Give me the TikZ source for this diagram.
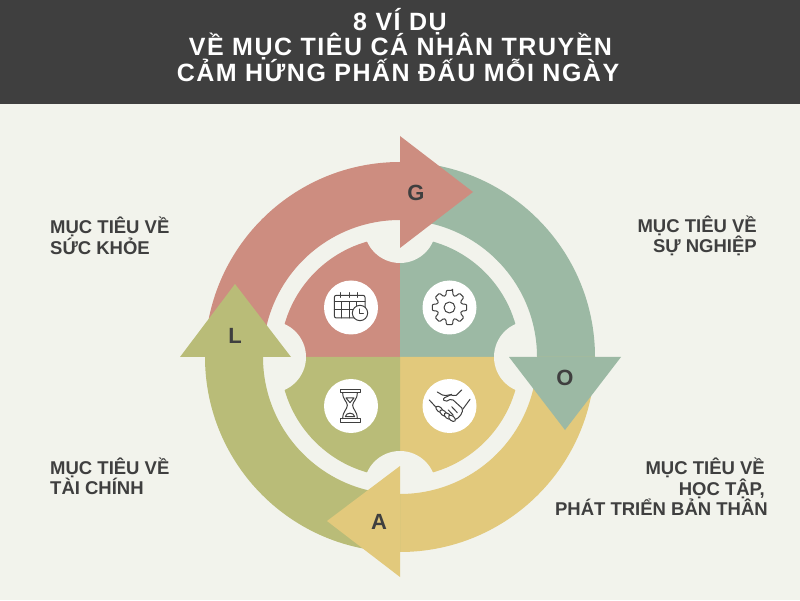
\documentclass[tikz,border=0pt]{standalone}
\usepackage{fontspec}
\setmainfont{Liberation Sans}
\newfontfamily\titlefont[LetterSpace=6]{Liberation Sans}
\definecolor{bgc}{HTML}{F2F3EC}
\definecolor{inkc}{HTML}{3F3F3F}
\definecolor{redc}{HTML}{CD8D80}
\definecolor{greenc}{HTML}{9CB9A4}
\definecolor{yellowc}{HTML}{E2C97C}
\definecolor{olivec}{HTML}{B9BC78}
\tikzset{
	title/.style={text=white,font=\titlefont\bfseries\fontsize{25}{25}\selectfont,inner sep=0,anchor=base},
	goal/.style={text=inkc,font=\bfseries\fontsize{18.5}{20.5}\selectfont,inner sep=0,align=left,anchor=west},
	goalr/.style={goal,align=right,anchor=east},
	letter/.style={text=inkc,font=\bfseries\fontsize{22}{22}\selectfont,inner sep=0},
	badge/.style={circle,fill=white,minimum size=54pt,inner sep=0},
	icon/.style={draw=inkc,line width=1pt,line join=round,line cap=round},
	zoomed/.style={shift={#1},x=0.3333pt,y=-0.3333pt}
}
\begin{document}
\begin{tikzpicture}[x=1pt,y=1pt]
	\useasboundingbox (0,0) rectangle (800,600);
	\fill[bgc] (0,0) rectangle (800,600);
	\fill[inkc] (0,496) rectangle (800,600);
	\path (400,569) node(t1)[title]{8 VÍ DỤ}
	(400.5,544) node(t2)[title]{VỀ MỤC TIÊU CÁ NHÂN TRUYỀN}
	(398,518.5) node(t3)[title]{CẢM HỨNG PHẤN ĐẤU MỖI NGÀY};
	\begin{scope}[shift={(400,243)}]
		% inner quarters
		\fill[redc] (0,0) -- (180:120) arc (180:90:120) -- cycle;
		\fill[greenc] (0,0) -- (90:120) arc (90:0:120) -- cycle;
		\fill[yellowc] (0,0) -- (0:120) arc (0:-90:120) -- cycle;
		\fill[olivec] (0,0) -- (-90:120) arc (-90:-180:120) -- cycle;
		\foreach \a in {0,90,180,270}
			\fill[bgc] (\a:130) circle (36);
		% ring
		\fill[redc] (180:195) arc (180:90:195) -- (90:137) arc (90:180:137) -- cycle;
		\fill[greenc] (90:195) arc (90:0:195) -- (0:137) arc (0:90:137) -- cycle;
		\fill[yellowc] (0:195) arc (0:-90:195) -- (-90:137) arc (-90:0:137) -- cycle;
		\fill[olivec] (-90:195) arc (-90:-180:195) -- (180:137) arc (180:270:137) -- cycle;
		% heads
		\fill[redc] (0,221) -- (73,165) -- (0,109) -- cycle;
		\fill[greenc] (109,0) -- (221,0) -- (165,-73) -- cycle;
		\fill[yellowc] (0,-109) -- (0,-220) -- (-73,-164) -- cycle;
		\fill[olivec] (-220,0) -- (-109,0) -- (-165,73) -- cycle;
	\end{scope}
	\path (416,407) node(g)[letter]{G}
	(565,222) node(o)[letter]{O}
	(379,78) node(a)[letter]{A}
	(235,264) node(l)[letter]{L};
	\path (351,292.5) node(cal)[badge]{}
	(449.5,292.5) node(gear)[badge]{}
	(351,194) node(glass)[badge]{}
	(449.5,194) node(hand)[badge]{};
	% calendar
	\begin{scope}[zoomed={(320,322)}]
		\draw[icon,rounded corners=2pt] (43,52) rectangle (135,120);
		\draw[icon] (43,72) -- (135,72) (43,95) -- (110,95)
		(65,72) -- (65,120) (88,72) -- (88,120) (110,72) -- (110,95)
		(62,44) -- (62,58) (88,44) -- (88,58) (113,44) -- (113,58);
		\draw[icon,fill=white] (120,105) circle (23);
		\draw[icon] (118,93) -- (118,107) -- (130,107);
	\end{scope}
	% gear
	\begin{scope}[shift={(gear)}]
		\draw[icon,rounded corners=1pt] (80:17.5) \foreach \a in {90,135,...,405}
			{ -- (\a-10:17.5) -- (\a+10:17.5) -- (\a+17:12.5) -- (\a+28:12.5) } -- cycle;
		\draw[icon] (0,0) circle (5.5);
	\end{scope}
	% hourglass
	\begin{scope}[zoomed={(320,224)}]
		\draw[icon] (60,40) rectangle (120,50) (60,128) rectangle (120,140);
		\draw[icon] (68,50) .. controls (68,72) and (82,76) .. (82,88) .. controls (82,100) and (68,106) .. (68,128);
		\draw[icon] (112,50) .. controls (112,72) and (98,76) .. (98,88) .. controls (98,100) and (112,106) .. (112,128);
		\draw[icon] (78,66) -- (102,66) -- (90,80) -- cycle;
		\draw[icon] (76,122) .. controls (78,108) and (102,108) .. (104,122) -- cycle;
	\end{scope}
	% handshake
	\begin{scope}[zoomed={(420,224)}]
		\draw[icon] (28,72) -- (50,96) (150,70) -- (128,100);
		\draw[icon,rounded corners=2pt] (52,48) -- (72,60) -- (95,55) -- (105,62) -- (125,42);
		\draw[icon,rounded corners=2pt] (95,55) -- (68,68) -- (75,78) -- (95,68) -- (130,100) -- (120,122) -- (102,133);
		\foreach \x/\y in {58/100,70/111,83/120,96/127}
			\draw[icon,fill=white] (\x,\y) ellipse [x radius=12,y radius=7,rotate=-40];
		\draw[icon] (95,92) -- (112,110) (85,102) -- (100,118);
	\end{scope}
	\path (50,364) node(n1)[goal]{MỤC TIÊU VỀ\\SỨC KHỎE}
	(757,364) node(n2)[goalr]{MỤC TIÊU VỀ\\SỰ NGHIỆP}
	(50,123.5) node(n3)[goal]{MỤC TIÊU VỀ\\TÀI CHÍNH}
	(768,113) node(n4)[goalr]{MỤC TIÊU VỀ\hspace{3pt}\mbox{}\\HỌC TẬP,\hspace{3pt}\mbox{}\\PHÁT TRIỂN BẢN THÂN};
\end{tikzpicture}
\end{document}
